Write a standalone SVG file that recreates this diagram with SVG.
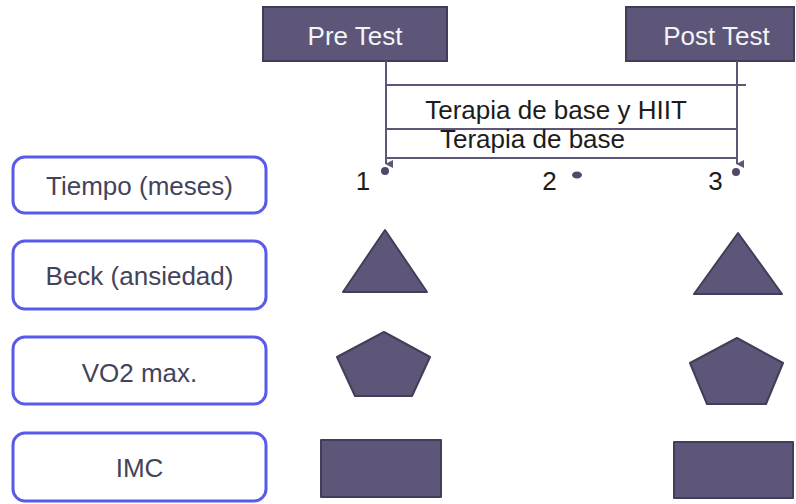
<svg xmlns="http://www.w3.org/2000/svg" width="796" height="504" viewBox="0 0 796 504">
  <defs>
    <style>
      .hdr { fill: #5d5678; stroke: #423c58; stroke-width: 2; }
      .hdr-t { font-family: "Liberation Sans", Arial, sans-serif; font-size: 26px; fill: #f4f4f6; text-anchor: middle; }
      .lbl { fill: #ffffff; stroke: #5a5ae8; stroke-width: 3; }
      .lbl-t { font-family: "Liberation Sans", Arial, sans-serif; font-size: 26px; fill: #45435a; text-anchor: middle; }
      .shape { fill: #5d5678; stroke: #433d59; stroke-width: 2; stroke-linejoin: round; }
      .tl-t { font-family: "Liberation Sans", Arial, sans-serif; font-size: 26px; fill: #1c1c1c; text-anchor: middle; }
      .conn { stroke: #5d5678; stroke-width: 2; fill: none; }
      .dot { fill: #4f4a68; }
    </style>
    <marker id="arr" viewBox="0 0 10 10" refX="5" refY="9" markerWidth="8" markerHeight="8" markerUnits="userSpaceOnUse" orient="auto-start-reverse">
      <path d="M0,0 L10,0 L5,10 Z" fill="#5d5678"/>
    </marker>
  </defs>

  <g id="pre-test">
    <rect class="hdr" x="263" y="7" width="184" height="54"/>
    <text class="hdr-t" x="355" y="45">Pre Test</text>
  </g>

  <g id="post-test">
    <rect class="hdr" x="626" y="7" width="168" height="54"/>
    <text class="hdr-t" x="716.5" y="45">Post Test</text>
  </g>

  <g id="connectors">
    <line class="conn" x1="386" y1="61" x2="386" y2="164" marker-end="url(#arr)"/>
    <line class="conn" x1="737" y1="61" x2="737" y2="164" marker-end="url(#arr)"/>
    <line class="conn" x1="386" y1="85" x2="746" y2="85"/>
    <line class="conn" x1="386" y1="129" x2="737" y2="129"/>
    <line class="conn" x1="386" y1="158" x2="737" y2="158"/>
  </g>

  <g id="timeline">
    <text class="tl-t" x="556" y="119">Terapia de base y HIIT</text>
    <text class="tl-t" x="532.5" y="148">Terapia de base</text>
    <circle class="dot" cx="385" cy="171" r="4"/>
    <ellipse class="dot" cx="577" cy="175" rx="5" ry="3.5"/>
    <circle class="dot" cx="736" cy="172" r="4"/>
    <text class="tl-t" x="363" y="190">1</text>
    <text class="tl-t" x="549.5" y="190">2</text>
    <text class="tl-t" x="715.5" y="190">3</text>
  </g>

  <g id="label-tiempo">
    <rect class="lbl" x="13" y="157" width="253" height="56" rx="12"/>
    <text class="lbl-t" x="139.5" y="195">Tiempo (meses)</text>
  </g>

  <g id="label-beck">
    <rect class="lbl" x="13" y="241" width="253" height="68" rx="12"/>
    <text class="lbl-t" x="139.5" y="285">Beck (ansiedad)</text>
  </g>

  <g id="label-vo2">
    <rect class="lbl" x="13" y="337" width="253" height="67" rx="12"/>
    <text class="lbl-t" x="139.5" y="382">VO2 max.</text>
  </g>

  <g id="label-imc">
    <rect class="lbl" x="13" y="433" width="253" height="68" rx="12"/>
    <text class="lbl-t" x="139.5" y="477">IMC</text>
  </g>

  <g id="pre-beck">
    <polygon class="shape" points="385,230 343,292 427,292"/>
  </g>
  <g id="post-beck">
    <polygon class="shape" points="738,233 694,294 782,294"/>
  </g>
  <g id="pre-vo2">
    <polygon class="shape" points="384,332 430,357 412,396 355,396 337,357"/>
  </g>
  <g id="post-vo2">
    <polygon class="shape" points="737,338 783,363 766,404 707,404 690,363"/>
  </g>
  <g id="pre-imc">
    <rect class="shape" x="321" y="440" width="120" height="57"/>
  </g>
  <g id="post-imc">
    <rect class="shape" x="674" y="442" width="119" height="56"/>
  </g>
</svg>
